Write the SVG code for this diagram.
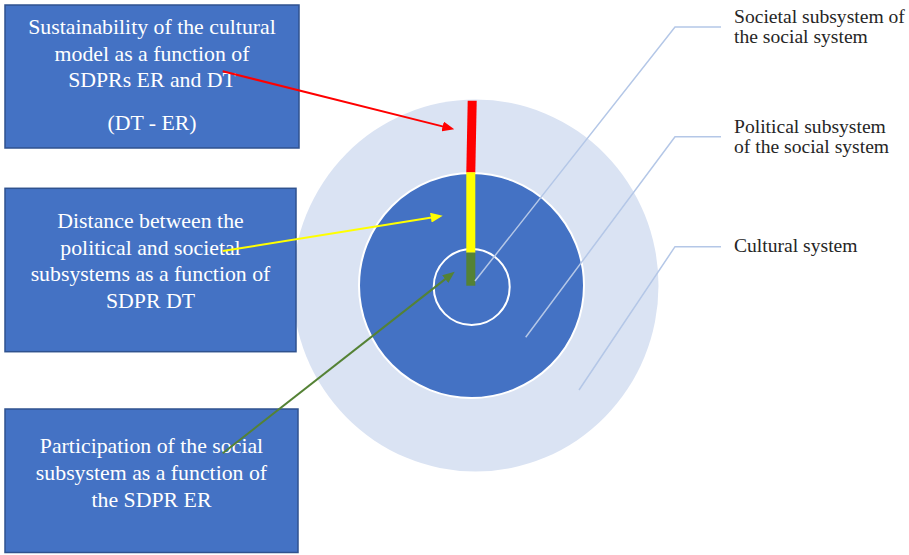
<svg xmlns="http://www.w3.org/2000/svg" width="909" height="555" viewBox="0 0 909 555">
  <defs>
    <style>
      .box { fill: #4472c4; stroke: #2f528f; stroke-width: 1.5; }
      .boxtext { font-family: "Liberation Serif", "Times New Roman", serif; font-size: 21.8px; fill: #ffffff; text-anchor: middle; }
      .label { font-family: "Liberation Serif", "Times New Roman", serif; font-size: 19.6px; fill: #262626; }
      .callout { fill: none; stroke: #b4c7e7; stroke-width: 1.5; }
      .arrow { fill: none; stroke-width: 2; }
    </style>
    <marker id="head-red" markerUnits="userSpaceOnUse" markerWidth="12" markerHeight="10" refX="4" refY="5" orient="auto">
      <path d="M0,0 L12,5 L0,10 z" fill="#ff0000"/>
    </marker>
    <marker id="head-yellow" markerUnits="userSpaceOnUse" markerWidth="12" markerHeight="10" refX="4" refY="5" orient="auto">
      <path d="M0,0 L12,5 L0,10 z" fill="#ffff00"/>
    </marker>
    <marker id="head-green" markerUnits="userSpaceOnUse" markerWidth="12" markerHeight="10" refX="4" refY="5" orient="auto">
      <path d="M0,0 L12,5 L0,10 z" fill="#548235"/>
    </marker>
  </defs>

  <rect width="909" height="555" fill="#ffffff"/>

  <!-- concentric systems -->
  <g id="cultural-system">
    <ellipse cx="475.5" cy="285.5" rx="183" ry="186" fill="#dae3f3"/>
  </g>
  <g id="political-subsystem">
    <circle cx="471.5" cy="285.5" r="112.5" fill="#4472c4" stroke="#ffffff" stroke-width="2"/>
  </g>
  <g id="societal-subsystem">
    <circle cx="471.7" cy="287" r="38" fill="none" stroke="#ffffff" stroke-width="2"/>
  </g>

  <!-- stacked indicator bar -->
  <g id="indicator-bar">
    <polygon points="467.7,100.7 476.7,100.7 475.3,172.5 466.3,172.5" fill="#ff0000"/>
    <rect x="466.3" y="172.3" width="9" height="80.4" fill="#ffff00"/>
    <rect x="466.3" y="252.7" width="9" height="33" fill="#548235"/>
  </g>

  <!-- left boxes -->
  <g id="box-sustainability">
    <rect class="box" x="5" y="5" width="294" height="143"/>
    <text class="boxtext" x="152" y="34.3">Sustainability of the cultural</text>
    <text class="boxtext" x="152" y="60.5">model as a function of</text>
    <text class="boxtext" x="152" y="87.3">SDPRs ER and DT</text>
    <text class="boxtext" x="152" y="130">(DT - ER)</text>
  </g>
  <g id="box-distance">
    <rect class="box" x="5" y="188.3" width="291" height="163.4"/>
    <text class="boxtext" x="150.5" y="228.3">Distance between the</text>
    <text class="boxtext" x="150.5" y="254.5">political and societal</text>
    <text class="boxtext" x="150.5" y="280.7">subsystems as a function of</text>
    <text class="boxtext" x="150.5" y="308.3">SDPR DT</text>
  </g>
  <g id="box-participation">
    <rect class="box" x="5" y="409" width="293" height="143.5"/>
    <text class="boxtext" x="151.5" y="453.3">Participation of the social</text>
    <text class="boxtext" x="151.5" y="480">subsystem as a function of</text>
    <text class="boxtext" x="151.5" y="507.3">the SDPR ER</text>
  </g>

  <!-- right-hand labels -->
  <g id="label-societal">
    <text class="label" x="734" y="23.3">Societal subsystem of</text>
    <text class="label" x="734" y="43.3">the social system</text>
  </g>
  <g id="label-political">
    <text class="label" x="734" y="133.3">Political subsystem</text>
    <text class="label" x="734" y="153.3">of the social system</text>
  </g>
  <g id="label-cultural">
    <text class="label" x="734" y="251.7">Cultural system</text>
  </g>

  <!-- connectors -->
  <g id="connectors">
    <path class="callout" d="M475,281 L675,27 L721,27"/>
    <path class="callout" d="M525.7,337.3 L675,136.7 L721,136.7"/>
    <path class="callout" d="M579,390 L675,246.7 L721,246.7"/>
    <line class="arrow" x1="222.7" y1="71.3" x2="446.5" y2="127.4" stroke="#ff0000" marker-end="url(#head-red)"/>
    <line class="arrow" x1="222.7" y1="251" x2="434.8" y2="217" stroke="#ffff00" marker-end="url(#head-yellow)"/>
    <line class="arrow" x1="222.7" y1="453.3" x2="448.4" y2="276.6" stroke="#548235" stroke-width="1.6" marker-end="url(#head-green)"/>
  </g>
</svg>
